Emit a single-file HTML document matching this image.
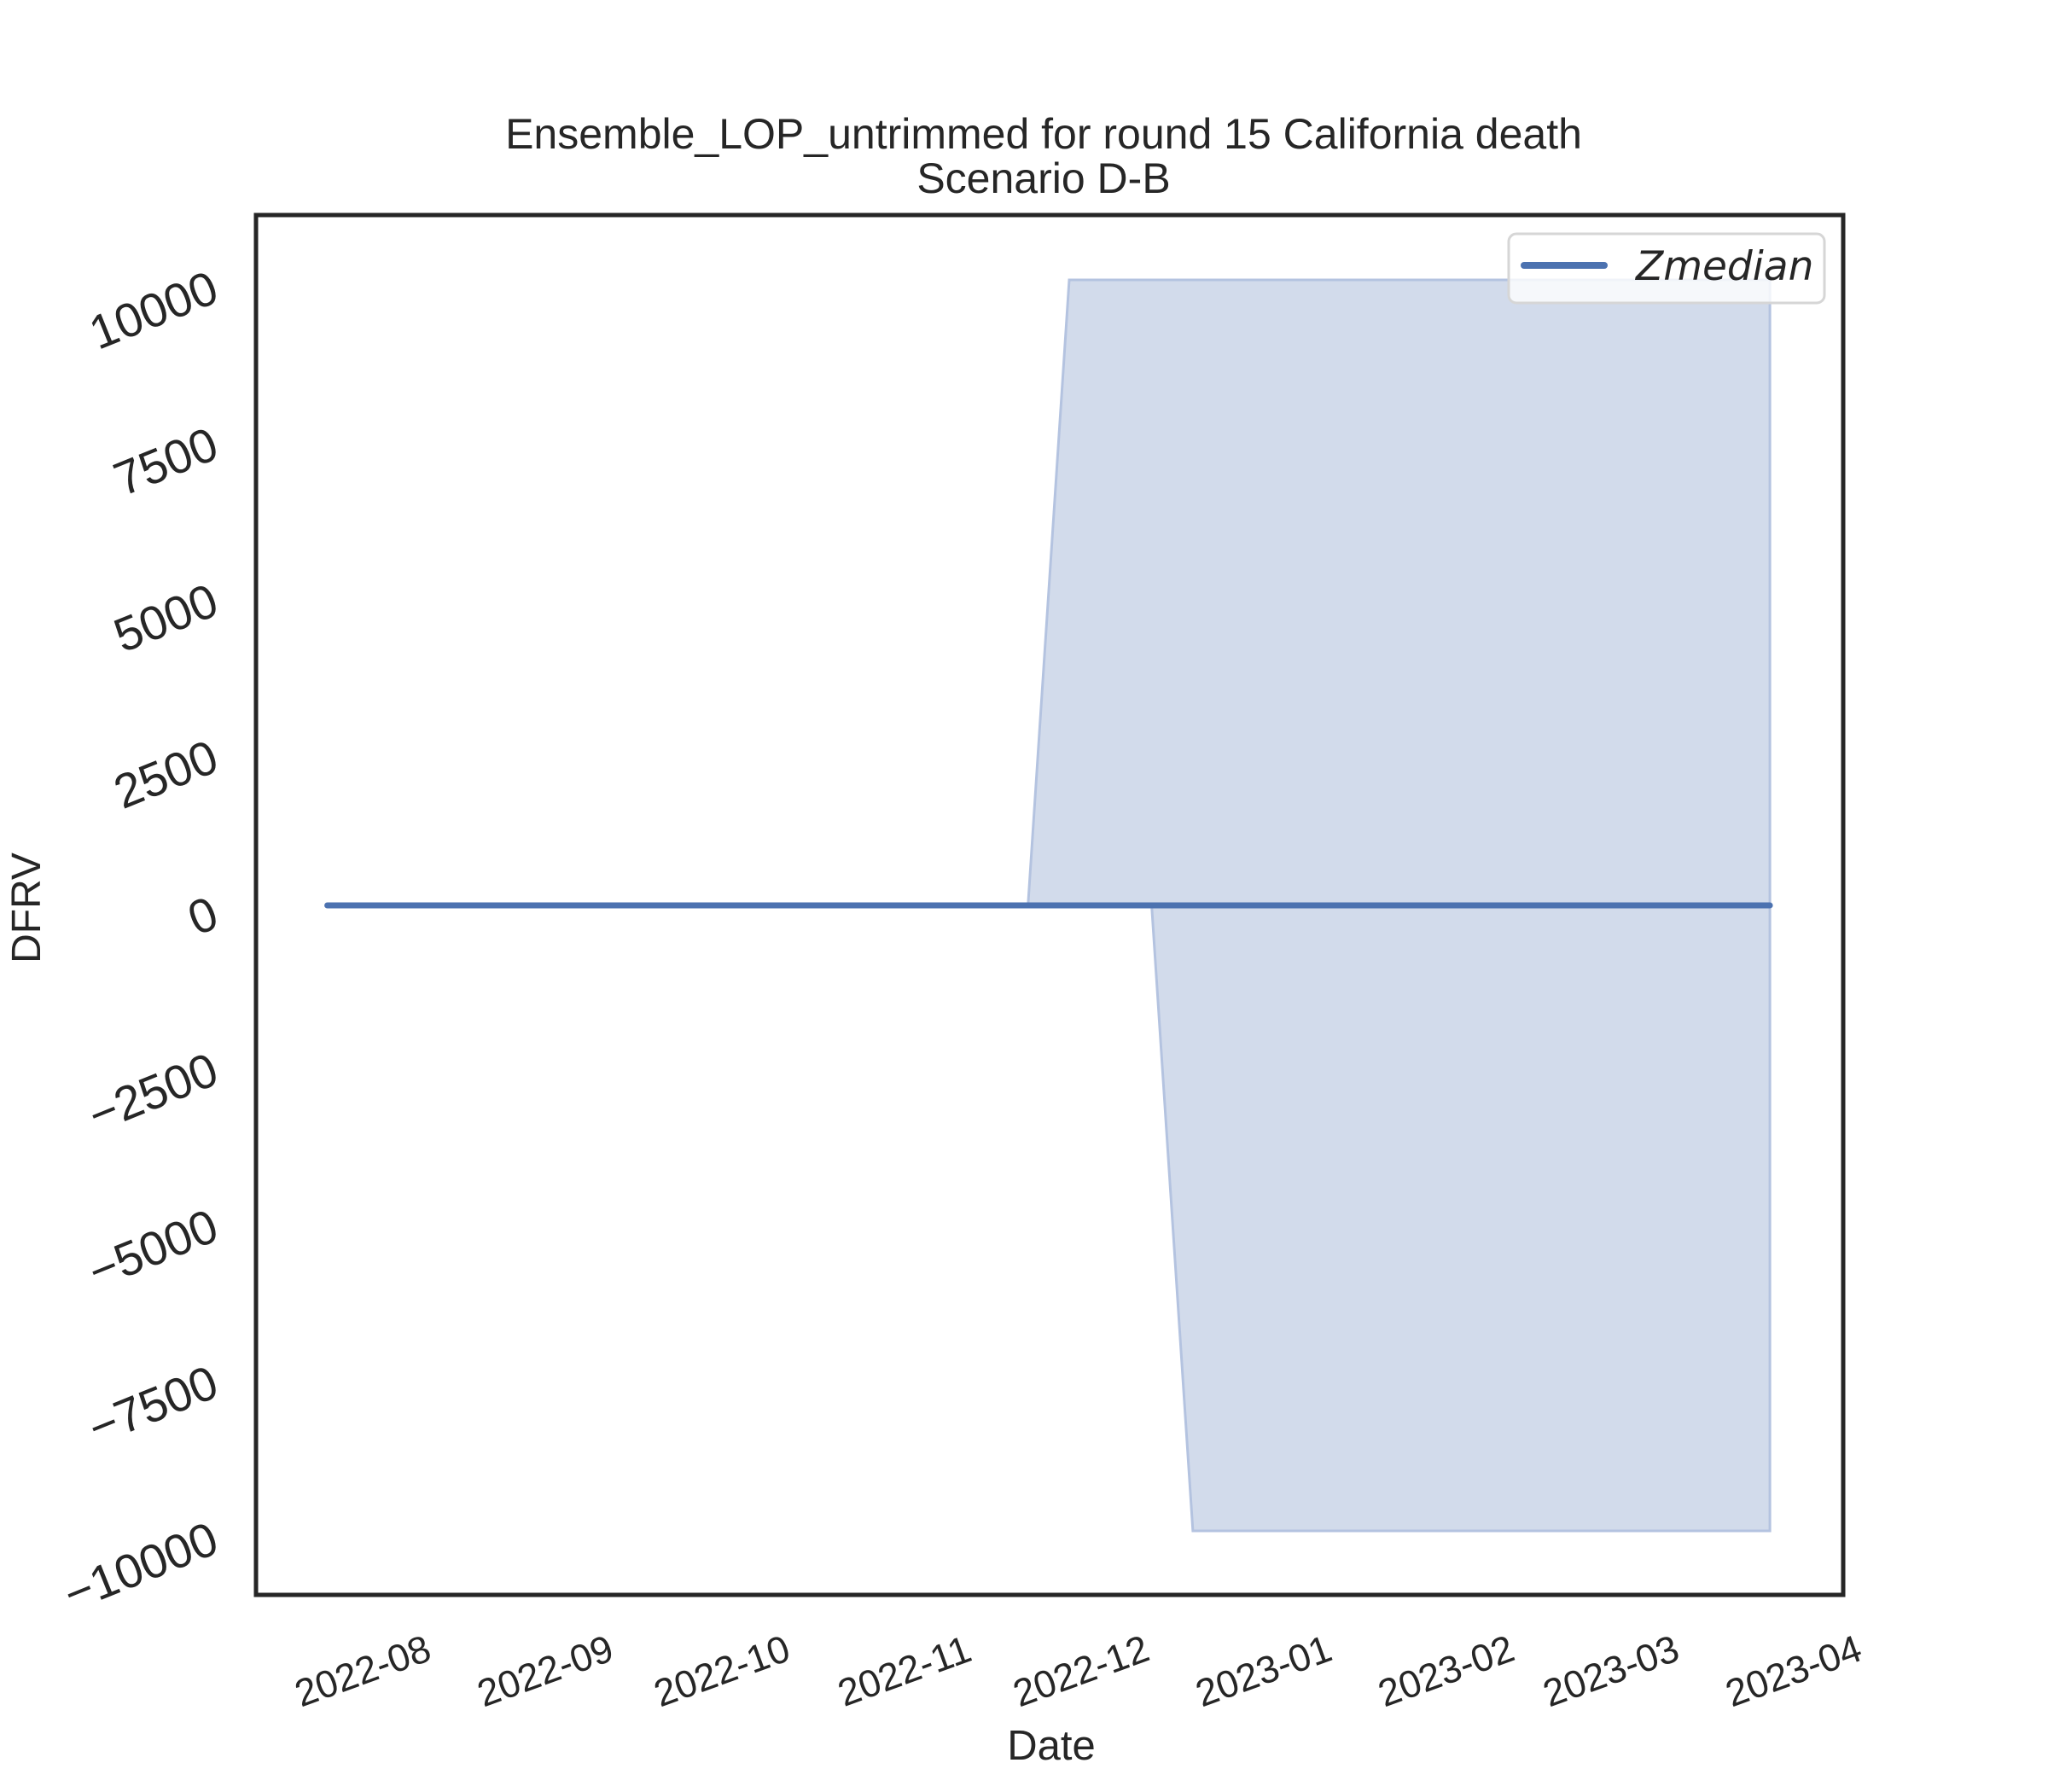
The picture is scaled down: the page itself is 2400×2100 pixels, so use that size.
<!DOCTYPE html>
<html><head><meta charset="utf-8"><style>
html,body{margin:0;padding:0;background:#fff}
svg{display:block}
text{font-family:"Liberation Sans",sans-serif;fill:#262626}
</style></head><body>
<svg id="chart" width="2400" height="2100" viewBox="0 0 2400 2100">
<text x="1223" y="174" font-size="50" text-anchor="middle">Ensemble_LOP_untrimmed for round 15 California death</text>
<text x="1223" y="226" font-size="50" text-anchor="middle">Scenario D-B</text>
<g id="plot"></g>
<g id="yticks"></g>
<g id="xticks"></g>
<rect x="300" y="252" width="1860" height="1617" fill="none" stroke="#262626" stroke-width="5"/>
<text x="0" y="0" font-size="48" text-anchor="middle" transform="translate(47,1064) rotate(-90)">DFRV</text>
<text x="1232" y="2062" font-size="49" text-anchor="middle">Date</text>
<g>
<rect x="1768" y="274" width="370" height="81" rx="9" fill="#fff" fill-opacity="0.8" stroke="#d6d6d6" stroke-width="3"/>
<line x1="1786" y1="311" x2="1880" y2="311" stroke="#4c72b0" stroke-width="8" stroke-linecap="round"/>
<text x="1917" y="328" font-size="47" font-style="italic" style="font-family:'DejaVu Sans',sans-serif">Zmedian</text>
</g>
</svg>
<script>
const weekCount = 36;
const startDate = "2022-07-26";
const upperVals = [0,0,0,0,0,0,0,0,0,0,0,0,0,0,0,0,0,0,10000,10000,10000,10000,10000,10000,10000,10000,10000,10000,10000,10000,10000,10000,10000,10000,10000,10000];
const lowerVals = [0,0,0,0,0,0,0,0,0,0,0,0,0,0,0,0,0,0,0,0,0,-10000,-10000,-10000,-10000,-10000,-10000,-10000,-10000,-10000,-10000,-10000,-10000,-10000,-10000,-10000];
const medianVals = [0,0,0,0,0,0,0,0,0,0,0,0,0,0,0,0,0,0,0,0,0,0,0,0,0,0,0,0,0,0,0,0,0,0,0,0];
const yTicks = [-10000,-7500,-5000,-2500,0,2500,5000,7500,10000];
const xTickLabels = ["2022-08","2022-09","2022-10","2022-11","2022-12","2023-01","2023-02","2023-03","2023-04"];

const NS = "http://www.w3.org/2000/svg";
const DAY = 86400000;
const aug1 = Date.UTC(2022,7,1);
function xScale(t){ return 425 + (t - aug1)/DAY*6.9; }
function yScale(v){ return 1061 - v*0.0733; }
function mk(tag, attrs, parent){ const e=document.createElementNS(NS,tag); for(const k in attrs) e.setAttribute(k,attrs[k]); parent.appendChild(e); return e; }

const [sy,sm,sd] = startDate.split("-").map(Number);
const t0 = Date.UTC(sy,sm-1,sd);
const dates = [];
for(let i=0;i<weekCount;i++) dates.push(t0 + i*7*DAY);

const plot = document.getElementById("plot");
let pts = [];
dates.forEach((d,i)=>pts.push(xScale(d).toFixed(1)+","+yScale(upperVals[i]).toFixed(1)));
for(let i=dates.length-1;i>=0;i--) pts.push(xScale(dates[i]).toFixed(1)+","+yScale(lowerVals[i]).toFixed(1));
const band = mk("polygon",{points:pts.join(" "),fill:"#d2dbeb",stroke:"#b4c3e0","stroke-width":3,"stroke-linejoin":"miter"},plot);


const line = mk("polyline",{points:dates.map((d,i)=>xScale(d).toFixed(1)+","+yScale(medianVals[i]).toFixed(1)).join(" "),fill:"none",stroke:"#4c72b0","stroke-width":7,"stroke-linecap":"round"},plot);



const yg = document.getElementById("yticks");
yTicks.forEach(v=>{
  const y = yScale(v);
  const t = mk("text",{x:0,y:0,"font-size":56,"text-anchor":"end","dominant-baseline":"central",transform:`translate(252,${y+6}) rotate(-22)`},yg);
  t.textContent = v<0 ? "\u2212"+Math.abs(v) : String(v);
  
  
});
const xg = document.getElementById("xticks");
xTickLabels.forEach(lbl=>{
  const [yy,mm] = lbl.split("-").map(Number);
  const x = xScale(Date.UTC(yy,mm-1,1));
  const t = mk("text",{x:0,y:0,"font-size":45,"text-anchor":"middle","dominant-baseline":"central",transform:`translate(${x},1958) rotate(-20)`},xg);
  t.textContent = lbl;
  
  
});
</script>
</body></html>
